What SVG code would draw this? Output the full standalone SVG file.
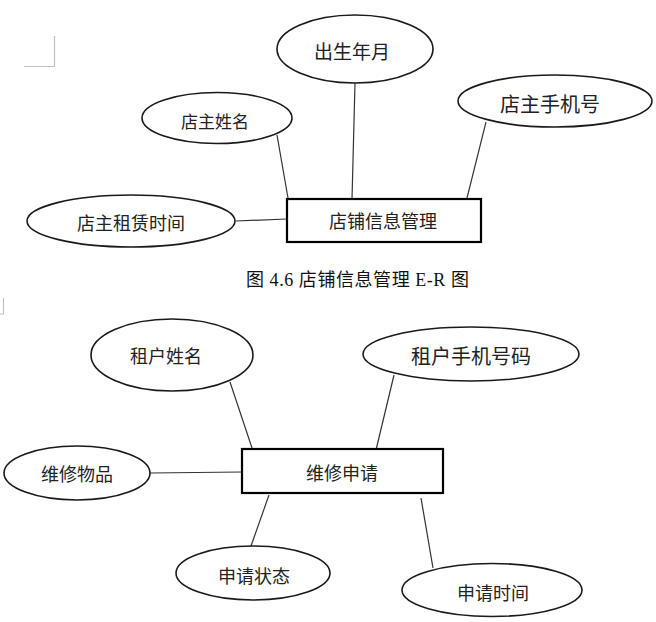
<svg xmlns="http://www.w3.org/2000/svg" width="656" height="622" viewBox="0 0 656 622">
<style>
  .attr { fill: #ffffff; stroke: #1a1a1a; stroke-width: 1.6; }
  .ent { fill: #ffffff; stroke: #000000; stroke-width: 2.2; }
  .lbl { font-family: "Noto Sans CJK SC", "Noto Sans", sans-serif; fill: #222222; text-anchor: middle; dominant-baseline: central; }
  .conn line { stroke: #333333; stroke-width: 1.2; }
  .mark { stroke: #c0c0c0; stroke-width: 1.2; fill: none; }
  .cap { font-family: "Liberation Serif", "Noto Sans CJK SC", serif; font-size: 18px; fill: #111111; }
</style>
<rect width="656" height="622" fill="#ffffff"/>
<path class="mark" d="M54.5 36 V66.5 H24"/>
<path class="mark" d="M3.5 298 V314 H0"/>

<g id="connectors" class="conn">
  <line x1="277" y1="135" x2="288" y2="198"/>
  <line x1="355" y1="83" x2="352" y2="199"/>
  <line x1="486" y1="122" x2="467" y2="198"/>
  <line x1="236" y1="221" x2="287" y2="219"/>
  <line x1="230" y1="382" x2="252" y2="448"/>
  <line x1="150" y1="473" x2="242" y2="472"/>
  <line x1="269" y1="495" x2="251" y2="546"/>
  <line x1="394" y1="375" x2="376" y2="450"/>
  <line x1="421" y1="498" x2="433" y2="568"/>
</g>

<g id="chusheng">
  <ellipse class="attr" cx="355" cy="49" rx="78" ry="34"/>
  <text class="lbl" x="352" y="50" font-size="19">出生年月</text>
</g>
<g id="dianzhu-xingming">
  <ellipse class="attr" cx="217" cy="118" rx="75" ry="25.5"/>
  <text class="lbl" x="215" y="120" font-size="17">店主姓名</text>
</g>
<g id="dianzhu-shouji">
  <ellipse class="attr" cx="555" cy="101" rx="97" ry="26"/>
  <text class="lbl" x="550" y="103" font-size="20">店主手机号</text>
</g>
<g id="dianzhu-zulin">
  <ellipse class="attr" cx="131" cy="221" rx="104" ry="26"/>
  <text class="lbl" x="131" y="222" font-size="18">店主租赁时间</text>
</g>
<g id="dianpu">
  <rect class="ent" x="287" y="199" width="194" height="43"/>
  <text class="lbl" x="383" y="220" font-size="18">店铺信息管理</text>
</g>

<text class="cap" x="246" y="286" textLength="223" lengthAdjust="spacing">图 4.6 店铺信息管理 E-R 图</text>

<g id="zuhu-xingming">
  <ellipse class="attr" cx="172" cy="355" rx="81" ry="36"/>
  <text class="lbl" x="166" y="355" font-size="18">租户姓名</text>
</g>
<g id="zuhu-shouji">
  <ellipse class="attr" cx="471" cy="354" rx="108" ry="27"/>
  <text class="lbl" x="471" y="355" font-size="20">租户手机号码</text>
</g>
<g id="weixiu-wupin">
  <ellipse class="attr" cx="77" cy="473" rx="73" ry="27"/>
  <text class="lbl" x="77" y="473" font-size="18">维修物品</text>
</g>
<g id="weixiu">
  <rect class="ent" x="242" y="449" width="201" height="44"/>
  <text class="lbl" x="342" y="472" font-size="18">维修申请</text>
</g>
<g id="shenqing-zhuangtai">
  <ellipse class="attr" cx="253" cy="573" rx="77" ry="27"/>
  <text class="lbl" x="254" y="575" font-size="18">申请状态</text>
</g>
<g id="shenqing-shijian">
  <ellipse class="attr" cx="492" cy="590" rx="90" ry="26.5"/>
  <text class="lbl" x="493" y="592" font-size="18">申请时间</text>
</g>
</svg>
